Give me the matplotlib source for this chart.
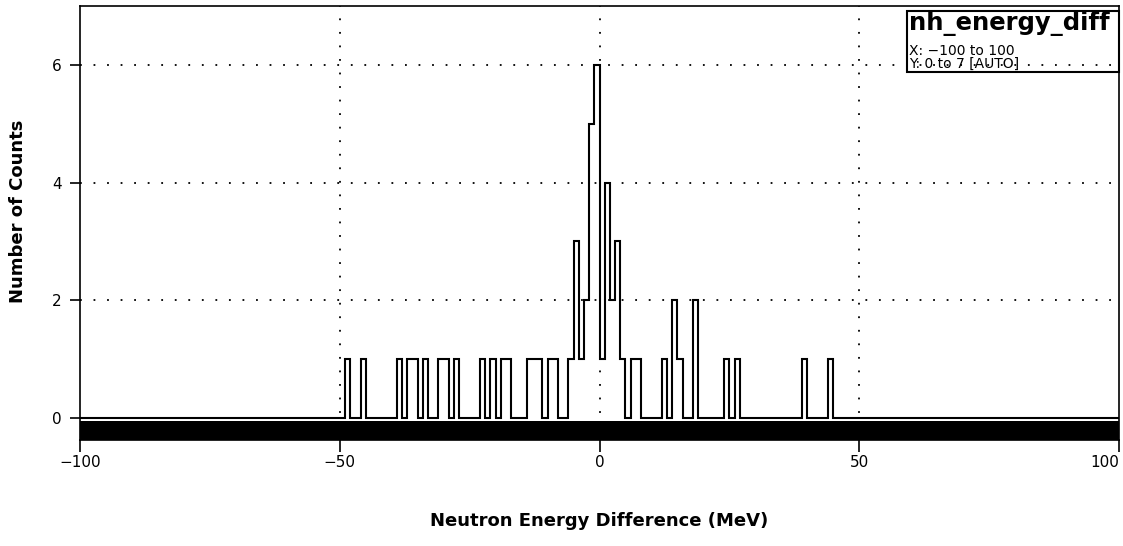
import numpy as np
import matplotlib
matplotlib.use("Agg")
import matplotlib.pyplot as plt
from matplotlib.patches import Rectangle

# ---- data ----
bin_lo, bin_hi, bin_width = -100, 100, 1
filled_bins = [-49, -46, -39, -37, -36, -34, -31, -30, -28, -23, -21, -19, -18,
               -14, -13, -12, -10, -9, -6, -5, -4, -3, -2, -1, 0, 1, 2, 3, 4,
               6, 7, 12, 14, 15, 18, 24, 26, 39, 44]
filled_counts = [1, 1, 1, 1, 1, 1, 1, 1, 1, 1, 1, 1, 1,
                 1, 1, 1, 1, 1, 1, 3, 1, 2, 5, 6, 1, 4, 2, 3, 1,
                 1, 1, 1, 2, 1, 2, 1, 1, 1, 1]
x_ticks = [-100, -50, 0, 50, 100]
y_ticks = [0, 2, 4, 6]
x_grid = [-50, 0, 50]
y_grid = [2, 4, 6]
title = "nh_energy_diff"
stat_lines = ["X: \u2212100 to 100", "Y: 0 to 7 [AUTO]"]
xlabel = "Neutron Energy Difference (MeV)"
ylabel = "Number of Counts"

edges = np.arange(bin_lo, bin_hi + bin_width, bin_width)
counts = np.zeros(len(edges) - 1)
for b, c in zip(filled_bins, filled_counts):
    counts[int((b - bin_lo) / bin_width)] = c

plt.rcParams['font.family'] = ['DejaVu Sans']

W, H = 1123, 546
L, R, T, B = 80, 1119, 6, 440
fig = plt.figure(figsize=(W / 100, H / 100), dpi=100)
ax = fig.add_axes([L / W, 1 - B / H, (R - L) / W, (B - T) / H])

ymin = -0.373
ax.set_xlim(bin_lo, bin_hi)
ax.set_ylim(ymin, 7)

# dark band under the zero line
ax.axhspan(ymin, -0.045, color='black', lw=0, zorder=1)

for gx in x_grid:
    ax.axvline(gx, color='black', lw=1.3, ls=(0, (1, 6.5)), zorder=0.5)
for gy in y_grid:
    ax.axhline(gy, color='black', lw=1.3, ls=(0, (1, 6.5)), zorder=0.5)

ax.stairs(counts, edges, baseline=0, color='black', lw=1.5, zorder=3)

ax.set_xticks(x_ticks)
labels = ax.set_xticklabels([("\u2212" + str(abs(t))) if t < 0 else str(t) for t in x_ticks])
labels[-1].set_horizontalalignment('right')
ax.set_yticks(y_ticks)
ax.tick_params(axis='x', direction='out', length=8.5, width=1.2, labelsize=11, pad=2)
ax.tick_params(axis='y', direction='out', length=7, width=1.2, labelsize=11, pad=6)
for s in ax.spines.values():
    s.set_linewidth(1.2)

ax.set_xlabel(xlabel, fontsize=13, fontweight='bold')
ax.xaxis.set_label_coords(0.5, -(521 - B) / (B - T), transform=ax.transAxes)
ax.set_ylabel(ylabel, fontsize=13, fontweight='bold')
ax.yaxis.set_label_coords(-(L - 18) / (R - L), (B - 211) / (B - T))
ax.xaxis.label.set_verticalalignment('center')
ax.yaxis.label.set_verticalalignment('center')

# stats box in the top right corner (transparent: grid shows through)
def fx(px):
    return (px - L) / (R - L)

def fy(py):
    return (B - py) / (B - T)

ax.add_patch(Rectangle((fx(907), fy(72)), fx(R) - fx(907), fy(11) - fy(72),
                       transform=ax.transAxes, facecolor='none',
                       edgecolor='black', lw=1.5, zorder=5, clip_on=False))
ax.text(fx(909), fy(24), title, transform=ax.transAxes, fontsize=17.5,
        fontweight='bold', va='center', ha='left', zorder=6)
ax.text(fx(909), fy(51), stat_lines[0], transform=ax.transAxes,
        fontsize=10, va='center', ha='left', zorder=6)
ax.text(fx(909), fy(64), stat_lines[1], transform=ax.transAxes,
        fontsize=10, va='center', ha='left', zorder=6)

fig.savefig("out.png", dpi=100)
